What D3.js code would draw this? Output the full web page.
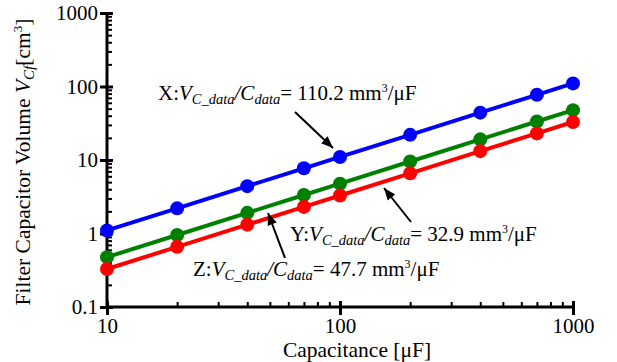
<!DOCTYPE html>
<html>
<head>
<meta charset="utf-8">
<script src="https://cdn.jsdelivr.net/npm/d3@7"></script>
<style>
  body { margin: 0; background: #fff; }
  text { font-family: "Liberation Serif", "Times New Roman", serif; fill: #000; }
</style>
</head>
<body>
<svg id="chart" width="617" height="362"></svg>
<script>
// Capacitance [uF]
var capacitance = [10, 20, 40, 70, 100, 200, 400, 700, 1000];
// Filter capacitor volume [cm3]
var seriesX = [1.10, 2.20, 4.41, 7.71, 11.0, 22.0, 44.1, 77.1, 110.2];
var seriesZ = [0.477, 0.954, 1.91, 3.34, 4.77, 9.54, 19.1, 33.4, 47.7];
var seriesY = [0.329, 0.658, 1.32, 2.30, 3.29, 6.58, 13.2, 23.0, 32.9];
var seriesColors = ["#0000ff", "#008000", "#ff0000"];
var xTicks = [10, 100, 1000];
var yTicks = [0.1, 1, 10, 100, 1000];
var serif = "'Liberation Serif', 'Times New Roman', serif";

var svg = d3.select("#chart");
var x = d3.scaleLog().domain([10, 1000]).range([107, 573]);
var y = d3.scaleLog().domain([0.1, 1000]).range([307, 13]);

// minor tick values from the decades
function minors(lo, hi) {
    var out = [];
    for (var d = lo; d < hi; d *= 10)
        for (var k = 2; k <= 9; k++) out.push(d * k);
    return out;
}

// Axes
var gx = svg.append("g").attr("transform", "translate(0,307)");
gx.call(d3.axisBottom(x).tickValues(minors(10, 1000)).tickSize(-5).tickSizeOuter(0).tickFormat(""));
gx.select(".domain").remove();
gx.selectAll("line").attr("stroke", "#000").attr("stroke-width", 2);
var gx2 = svg.append("g").attr("transform", "translate(0,307)");
gx2.call(d3.axisBottom(x).tickValues(xTicks).tickSizeOuter(0).tickFormat(d3.format("d")));
gx2.attr("font-family", serif);
gx2.select(".domain").attr("stroke-width", 3).attr("d", "M107,0H573");
gx2.selectAll(".tick line").attr("y1", -6).attr("y2", 8).attr("stroke-width", 3);
gx2.selectAll(".tick text").attr("y", 11).attr("dy", "0.71em")
    .style("font-size", "21px").style("font-family", serif);

var gy = svg.append("g").attr("transform", "translate(107,0)");
gy.call(d3.axisRight(y).tickValues(minors(0.1, 1000)).tickSize(5).tickSizeOuter(0).tickFormat(""));
gy.select(".domain").remove();
gy.selectAll("line").attr("stroke", "#000").attr("stroke-width", 2);
var gy2 = svg.append("g").attr("transform", "translate(107,0)");
gy2.call(d3.axisLeft(y).tickValues(yTicks).tickSizeOuter(0).tickFormat(d3.format("~g")));
gy2.attr("font-family", serif);
gy2.select(".domain").attr("stroke-width", 3).attr("d", "M0,307V13");
gy2.selectAll(".tick line").attr("x1", 6).attr("x2", -7).attr("stroke-width", 3);
gy2.selectAll(".tick text").attr("x", -9)
    .style("font-size", "21px").style("font-family", serif);

// Axis titles
svg.append("text")
    .attr("x", 357).attr("y", 357)
    .attr("text-anchor", "middle")
    .style("font-size", "21.5px")
    .text("Capacitance [\u03bcF]");

var yt = svg.append("text")
    .attr("transform", "translate(30,162) rotate(-90)")
    .attr("text-anchor", "middle")
    .style("font-size", "21.5px");
yt.append("tspan").text("Filter Capacitor Volume ");
yt.append("tspan").style("font-style", "italic").text("V");
yt.append("tspan").style("font-style", "italic").style("font-size", "15px").attr("dy", 4).text("Cf");
yt.append("tspan").attr("dy", -4).text("[cm");
yt.append("tspan").style("font-size", "13px").attr("dy", -8).text("3");
yt.append("tspan").attr("dy", 8).text("]");

// Lines and markers
var series = [seriesX, seriesZ, seriesY];
var line = d3.line()
    .x(function (d, i) { return x(capacitance[i]); })
    .y(function (d) { return y(d); });

series.forEach(function (vals, s) {
    svg.append("path")
        .datum(vals)
        .attr("d", line)
        .attr("fill", "none")
        .attr("stroke", seriesColors[s])
        .attr("stroke-width", 4);
    svg.selectAll("circle.s" + s)
        .data(vals)
        .enter()
        .append("circle")
        .attr("class", "s" + s)
        .attr("cx", function (d, i) { return x(capacitance[i]); })
        .attr("cy", function (d) { return y(d); })
        .attr("r", 7)
        .attr("fill", seriesColors[s]);
});

// Annotations
var defs = svg.append("defs");
defs.append("marker")
    .attr("id", "arrow")
    .attr("viewBox", "0 0 10 10")
    .attr("refX", 10).attr("refY", 5)
    .attr("markerWidth", 6).attr("markerHeight", 6)
    .attr("markerUnits", "strokeWidth")
    .attr("orient", "auto")
    .append("path")
    .attr("d", "M0,1L10,5L0,9Z")
    .attr("fill", "#000");

function label(px, py, name, value) {
    var t = svg.append("text").attr("x", px).attr("y", py).style("font-size", "21px");
    t.append("tspan").text(name + ":");
    t.append("tspan").style("font-style", "italic").text("V");
    t.append("tspan").style("font-style", "italic").style("font-size", "14.5px").attr("dy", 4).text("C_data");
    t.append("tspan").style("font-style", "italic").attr("dy", -4).text("/C");
    t.append("tspan").style("font-style", "italic").style("font-size", "14.5px").attr("dy", 4).text("data");
    t.append("tspan").attr("dy", -4).text("= " + value + " mm");
    t.append("tspan").style("font-size", "12px").attr("dy", -8).text("3");
    t.append("tspan").attr("dy", 8).text("/\u03bcF");
}
function arrow(x1, y1, x2, y2) {
    svg.append("line")
        .attr("x1", x1).attr("y1", y1).attr("x2", x2).attr("y2", y2)
        .attr("stroke", "#000").attr("stroke-width", 2)
        .attr("marker-end", "url(#arrow)");
}
label(158, 100, "X", "110.2");
arrow(295, 112, 333, 148);
label(290, 241, "Y", "32.9");
arrow(411, 222, 384, 188);
label(193, 276, "Z", "47.7");
arrow(285, 258, 268, 213);
</script>
</body>
</html>
